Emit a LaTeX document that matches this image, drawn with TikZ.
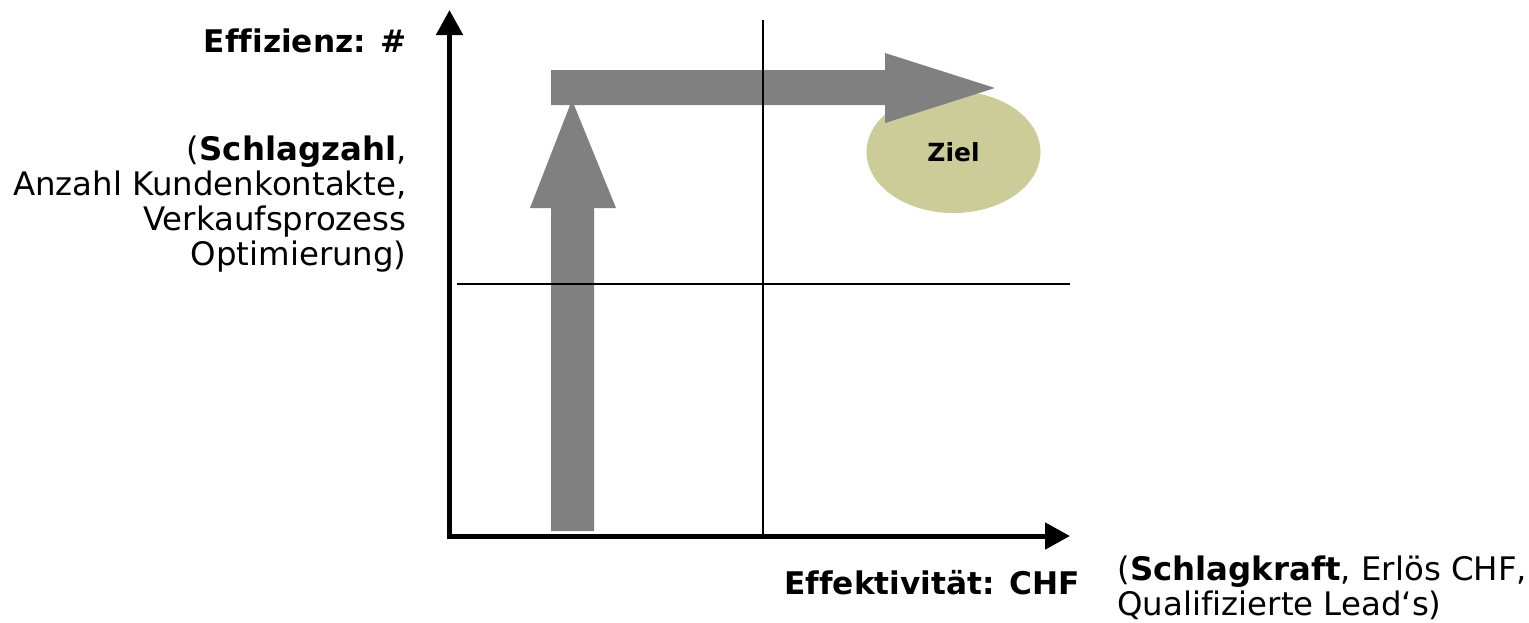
\documentclass[tikz,border=0pt]{standalone}
\usepackage{fontspec}
\setmainfont[Ligatures=NoCommon]{DejaVu Sans}
\usetikzlibrary{arrows.meta,shapes.geometric}
\definecolor{arrowgray}{RGB}{128,128,128}
\definecolor{goalfill}{RGB}{204,204,153}
\tikzset{
  axis/.style={line width=2.5pt,-{Triangle[length=12.5pt,width=13pt]}},
  gridline/.style={line width=0.75pt},
  label/.style={font=\fontsize{16.2}{17.5}\selectfont,inner sep=0pt},
  boldlabel/.style={font=\fontsize{15.6}{17.5}\selectfont\bfseries,inner sep=0pt},
}
\begin{document}
\begin{tikzpicture}[x=0.5pt,y=-0.5pt]
\useasboundingbox (0,0) rectangle (1529,622);

% goal area
\node[ellipse,fill=goalfill,minimum width=87pt,minimum height=61pt,inner sep=0pt,
      font=\fontsize{12.5}{14}\selectfont\bfseries] (ziel) at (953.5,152) {Ziel};

% broad grey arrows: upwards, then to the right
\fill[arrowgray] (551,531) -- (594,531) -- (594,208) -- (616,208) -- (572,100)
  -- (530,208) -- (551,208) -- cycle;
\fill[arrowgray] (551,70) -- (885,70) -- (885,53) -- (995,88) -- (885,123)
  -- (885,105) -- (551,105) -- cycle;

% quadrant lines
\coordinate (vtop) at (763,20);
\coordinate (vbot) at (763,535);
\coordinate (hl) at (457,284);
\coordinate (hr) at (1070,284);
\draw[gridline] (vtop) -- (vbot);
\draw[gridline] (hl) -- (hr);

% axes
\coordinate (ytip) at (449.5,10);
\coordinate (xtip) at (1070,536);
\draw[axis] (449.5,538.5) -- (ytip);
\draw[axis] (447,536) -- (xtip);

% axis labels
\node[boldlabel,anchor=base east] (ylab) at (407,52) {Effizienz: \#};
\node[label,anchor=north east,align=right] (ydesc) at (407,135)
  {(\textbf{Schlagzahl},\\Anzahl Kundenkontakte,\\Verkaufsprozess\\Optimierung)};
\node[boldlabel,anchor=base east] (xlab) at (1080,594) {Effektivität: CHF};
\node[label,anchor=north west,align=left] (xdesc) at (1117,555)
  {(\textbf{Schlagkraft}, Erlös CHF,\\Qualifizierte Lead‘s)};
\end{tikzpicture}
\end{document}
